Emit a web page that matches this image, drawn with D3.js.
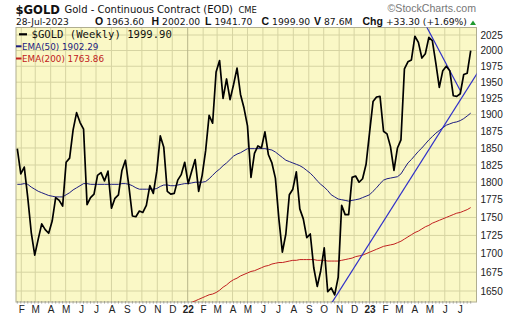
<!DOCTYPE html>
<html>
<head>
<meta charset="utf-8">
<script src="https://cdn.jsdelivr.net/npm/d3@7"></script>
<style>
  body { margin: 0; background: #fff; }
  svg { display: block; font-family: "Liberation Sans", Arial, sans-serif; }
</style>
</head>
<body>
<svg id="chart" width="520" height="318"></svg>
<script>
// ---------------- data ----------------
// weekly bars, one per week (week start dates), Jan 2021 .. Jul 2023
const weeks = d3.timeWeek.range(new Date(2021, 0, 24), new Date(2023, 6, 24));

const closes = [
  1849, 1812, 1822, 1778, 1729, 1698, 1720, 1741, 1733, 1728, 1745, 1778, 1774, 1766,
  1829, 1835, 1877, 1903, 1888, 1878, 1768, 1778, 1783, 1810, 1814, 1802, 1816,
  1763, 1777, 1782, 1817, 1832, 1794, 1752, 1751, 1759, 1757, 1767, 1795, 1784,
  1816, 1868, 1851, 1787, 1783, 1784, 1803, 1811, 1829, 1798, 1816, 1833, 1787,
  1810, 1846, 1899, 1887, 1966, 1984, 1925, 1955, 1923, 1946, 1972, 1931, 1910,
  1883, 1807, 1842, 1853, 1850, 1874, 1840, 1828, 1806, 1748, 1702, 1727, 1782,
  1790, 1815, 1762, 1748, 1722, 1727, 1681, 1656, 1677, 1708, 1649, 1654, 1645,
  1668, 1767, 1754, 1754, 1807, 1809, 1800, 1805, 1826, 1873, 1920, 1927, 1928,
  1875, 1871, 1852, 1817, 1850, 1862, 1971, 1982, 1985, 2023, 2013, 1988, 1995,
  2021, 2016, 1980, 1942, 1968, 1975, 1968, 1929, 1928, 1932, 1962, 1964, 1999.9
];

const ema50 = [
  1797, 1797, 1798, 1797, 1793, 1790, 1787, 1785, 1783, 1781, 1780, 1779, 1779, 1779,
  1782, 1785, 1789, 1792, 1795, 1798, 1798, 1797, 1797, 1797, 1797, 1797, 1797,
  1797, 1797, 1797, 1798, 1798, 1797, 1795, 1792, 1790, 1790, 1790, 1790, 1790,
  1791, 1794, 1796, 1796, 1795, 1795, 1796, 1797, 1798, 1798, 1799, 1800, 1800,
  1800, 1801, 1805, 1810, 1815, 1819, 1824, 1828, 1833, 1838, 1841, 1843, 1846,
  1849, 1849, 1849, 1849, 1849, 1849, 1848, 1847, 1844, 1840, 1836, 1832, 1830,
  1828, 1826, 1824, 1821, 1817, 1813, 1808, 1802, 1797, 1793, 1788, 1782, 1779,
  1776, 1775, 1774, 1773, 1774, 1775, 1776, 1778, 1780, 1782, 1787, 1792, 1798,
  1803, 1805, 1806, 1807, 1808, 1812, 1820, 1828, 1833, 1839, 1845, 1850, 1856,
  1862, 1867, 1872, 1876, 1880, 1884, 1886, 1888, 1889, 1891, 1894, 1898, 1902.29
];

// EMA(200) only becomes visible from week 49 on
const ema200Start = 49;
const ema200 = [
  1632, 1635, 1637, 1639, 1641, 1643, 1645, 1646, 1648, 1651, 1655, 1658, 1662,
  1665, 1667, 1670, 1672, 1674, 1676, 1677, 1679, 1681, 1683, 1684, 1686, 1687,
  1688, 1688, 1689, 1690, 1691, 1691, 1692, 1692, 1692, 1692, 1692, 1691, 1691,
  1691, 1690, 1690, 1690, 1690, 1691, 1692, 1693, 1694, 1696, 1697, 1698, 1700,
  1702, 1704, 1706, 1708, 1710, 1711, 1712, 1713, 1715, 1717, 1720, 1723, 1726,
  1729, 1731, 1734, 1737, 1739, 1742, 1744, 1746, 1748, 1750, 1752, 1754, 1756,
  1757, 1759, 1761, 1763.86
];

// hand drawn trend lines [date, price]
const trendLines = [
  [[new Date(2022, 9, 9), 1626], [new Date(2023, 7, 6), 1965]],
  [[new Date(2023, 3, 16), 2053], [new Date(2023, 6, 2), 1937]]
];

const yTicks = [1650, 1675, 1700, 1725, 1750, 1775, 1800, 1825, 1850, 1875, 1900, 1925, 1950, 1975, 2000, 2025];
const monthTicks = d3.timeMonth.range(new Date(2021, 1, 1), new Date(2023, 7, 1));

const quote = [
  ["O", "1963.60"], ["H", "2002.00"], ["L", "1941.70"],
  ["C", "1999.90"], ["V", "87.6M"], ["Chg", "+33.30 (+1.69%)"]
];
const quoteX = [95, 151.5, 205, 261.5, 314, 362.5];

const legendItems = [
  { label: "$GOLD (Weekly) 1999.90", color: "#000" },
  { label: "EMA(50) 1902.29", color: "#1c1c80" },
  { label: "EMA(200) 1763.86", color: "#c02020" }
];

// ---------------- layout ----------------
const svg = d3.select("#chart");
const plot = { left: 16, right: 476.5, top: 27.5, bottom: 302 };

const x = d3.scaleTime()
  .domain([weeks[0], weeks[weeks.length - 1]])
  .range([17.3, 470.7]);

const y = d3.scaleLog()
  .domain([1650, 2025])
  .range([291, 35]);

svg.append("rect")
  .attr("x", plot.left).attr("y", plot.top)
  .attr("width", plot.right - plot.left).attr("height", plot.bottom - plot.top)
  .attr("fill", "#faf8c6");

svg.append("clipPath").attr("id", "clip")
  .append("rect")
  .attr("x", plot.left).attr("y", plot.top)
  .attr("width", plot.right - plot.left).attr("height", plot.bottom - plot.top);

// grid
const grid = svg.append("g");
grid.selectAll("line.h")
  .data(yTicks)
  .join("line")
  .attr("class", "h")
  .attr("x1", plot.left).attr("x2", plot.right)
  .attr("y1", d => y(d)).attr("y2", d => y(d))
  .attr("stroke", "#d6d4a2").attr("stroke-width", 1);

grid.selectAll("line.v")
  .data(monthTicks)
  .join("line")
  .attr("class", "v")
  .attr("x1", d => x(d)).attr("x2", d => x(d))
  .attr("y1", plot.top).attr("y2", plot.bottom)
  .attr("stroke", d => d.getMonth() === 0 ? "#b8b68a" : "#d6d4a2")
  .attr("stroke-width", 1);

// weekly tick dots along the bottom
svg.append("g").selectAll("line")
  .data(weeks)
  .join("line")
  .attr("x1", d => x(d)).attr("x2", d => x(d))
  .attr("y1", plot.bottom - 1).attr("y2", plot.bottom + 1.5)
  .attr("stroke", "#999").attr("stroke-width", 1);

svg.append("rect")
  .attr("x", plot.left).attr("y", plot.top)
  .attr("width", plot.right - plot.left).attr("height", plot.bottom - plot.top)
  .attr("fill", "none").attr("stroke", "#b0ae90").attr("stroke-width", 1);

// axes
const yAxis = svg.append("g")
  .attr("transform", `translate(${plot.right},0)`)
  .call(d3.axisRight(y).tickValues(yTicks).tickFormat(d3.format("d")).tickSize(0).tickPadding(4));
yAxis.select(".domain").remove();
yAxis.selectAll("text")
  .attr("font-size", 10)
  .attr("font-family", "'Liberation Sans', Arial, sans-serif")
  .attr("fill", "#222");

const xAxis = svg.append("g")
  .attr("transform", `translate(0,${plot.bottom})`)
  .call(d3.axisBottom(x).tickValues(monthTicks)
    .tickFormat(d => d.getMonth() === 0 ? d3.timeFormat("%y")(d) : d3.timeFormat("%b")(d)[0])
    .tickSize(0).tickPadding(4));
xAxis.select(".domain").remove();
xAxis.selectAll("text")
  .attr("font-size", 10)
  .attr("font-family", "'Liberation Sans', Arial, sans-serif")
  .attr("font-weight", d => d.getMonth() === 0 ? "bold" : "normal")
  .attr("fill", "#222");

// series
const series = svg.append("g").attr("clip-path", "url(#clip)");

const line = d3.line()
  .x((d, i) => x(weeks[i]))
  .y(d => y(d));

series.append("path")
  .datum(ema200)
  .attr("fill", "none")
  .attr("stroke", "#c02020")
  .attr("stroke-width", 1)
  .attr("d", d3.line().x((d, i) => x(weeks[i + ema200Start])).y(d => y(d)));

series.append("path")
  .datum(ema50)
  .attr("fill", "none")
  .attr("stroke", "#1c1c80")
  .attr("stroke-width", 1)
  .attr("d", line);

series.selectAll("path.trend")
  .data(trendLines)
  .join("path")
  .attr("class", "trend")
  .attr("fill", "none")
  .attr("stroke", "#3030c8")
  .attr("stroke-width", 1.2)
  .attr("d", d3.line().x(d => x(d[0])).y(d => y(d[1])));

series.append("path")
  .datum(closes)
  .attr("fill", "none")
  .attr("stroke", "#000")
  .attr("stroke-width", 1.7)
  .attr("stroke-linejoin", "round")
  .attr("d", line);

// legend
const legend = svg.append("g");
legend.append("line")
  .attr("x1", 19).attr("x2", 27).attr("y1", 34.3).attr("y2", 34.3)
  .attr("stroke", legendItems[0].color).attr("stroke-width", 2.2);
legend.append("text")
  .attr("x", 31.5).attr("y", 38)
  .attr("font-family", "'DejaVu Sans Mono', monospace")
  .attr("font-size", 10.6)
  .attr("fill", "#111")
  .text(legendItems[0].label);

legendItems.slice(1).forEach((d, i) => {
  const ly = 46.3 + i * 12.2;
  legend.append("line")
    .attr("x1", 16).attr("x2", 21.5).attr("y1", ly).attr("y2", ly)
    .attr("stroke", d.color).attr("stroke-width", 2);
  legend.append("text")
    .attr("x", 22).attr("y", ly + 3.5)
    .attr("font-family", "'DejaVu Sans', sans-serif")
    .attr("font-size", 8.8)
    .attr("fill", d.color)
    .text(d.label);
});

// header
const head = svg.append("g").attr("fill", "#111");
head.append("text")
  .attr("x", 15.5).attr("y", 14)
  .attr("font-family", "'DejaVu Sans', sans-serif")
  .attr("font-weight", "bold").attr("font-size", 11.6)
  .text("$GOLD");
head.append("text")
  .attr("x", 64.5).attr("y", 13)
  .attr("font-family", "'DejaVu Sans', sans-serif")
  .attr("font-size", 10)
  .text("Gold - Continuous Contract (EOD)");
head.append("text")
  .attr("x", 238.5).attr("y", 13)
  .attr("font-family", "'DejaVu Sans', sans-serif")
  .attr("font-size", 8.4)
  .text("CME");
head.append("text")
  .attr("x", 476).attr("y", 12)
  .attr("text-anchor", "end")
  .attr("font-family", "'Liberation Sans', Arial, sans-serif")
  .attr("font-size", 10.6)
  .attr("fill", "#777")
  .text("\u00A9StockCharts.com");

head.append("text")
  .attr("x", 16).attr("y", 25)
  .attr("font-family", "'DejaVu Sans', sans-serif")
  .attr("font-size", 9.1)
  .text("28-Jul-2023");

quote.forEach((q, i) => {
  const t = head.append("text")
    .attr("x", quoteX[i]).attr("y", 25);
  t.append("tspan")
    .attr("font-family", "'Liberation Sans', Arial, sans-serif")
    .attr("font-weight", "bold").attr("font-size", 10.5)
    .text(q[0]);
  t.append("tspan")
    .attr("dx", 3)
    .attr("font-family", "'DejaVu Sans', sans-serif")
    .attr("font-size", 9.2)
    .text(q[1]);
});

head.append("path")
  .attr("d", "M470,25 L473,20.5 L476,25 Z")
  .attr("fill", "#1f9a2f");
</script>
</body>
</html>
